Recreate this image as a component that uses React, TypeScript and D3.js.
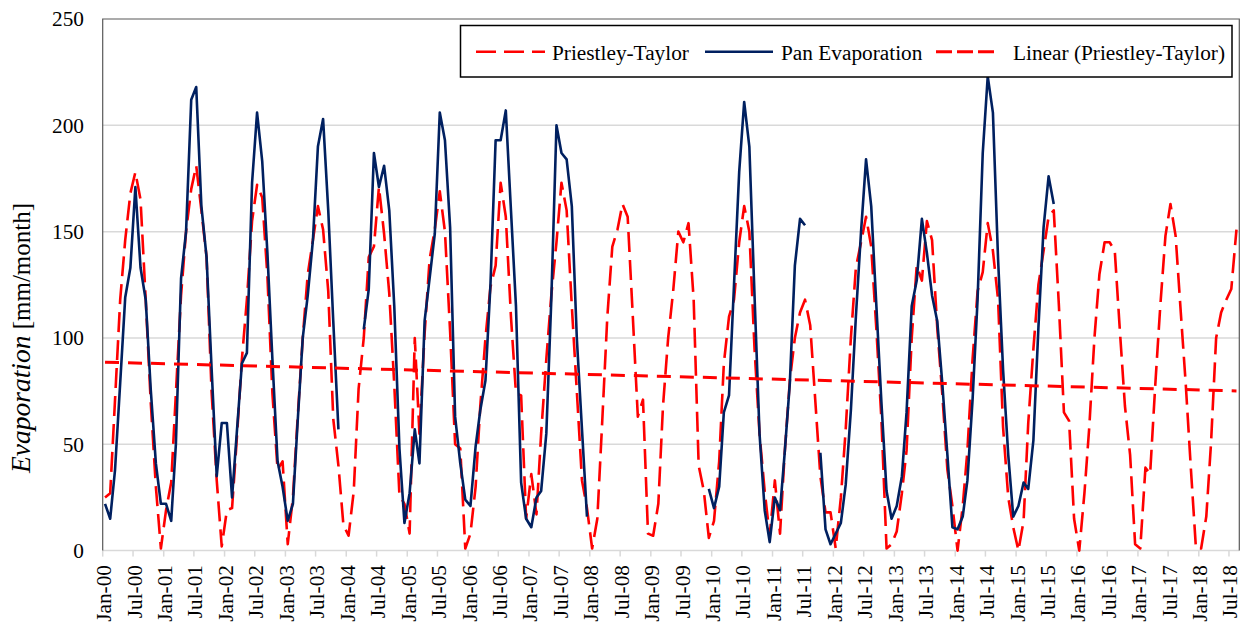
import React from 'react';
import * as d3 from 'd3';

// Monthly evaporation, Jan 2000 – Aug 2018 (mm/month), one row per year
const ptValues: number[] = [
  25, 27, 71, 118, 146, 168, 178, 165, 118, 70, 30, 1, // 2000
  19, 32, 74, 120, 150, 170, 181, 160, 138, 75, 33, 2, // 2001
  19, 20, 52, 90, 118, 155, 172, 166, 129, 74, 38, 42, // 2002
  3, 25, 62, 100, 130, 146, 162, 151, 122, 62, 40, 12, // 2003
  7, 28, 76, 100, 138, 143, 171, 149, 121, 78, 26, 22, // 2004
  8, 100, 55, 102, 137, 151, 169, 150, 103, 50, 48, 1, // 2005
  8, 30, 68, 100, 124, 134, 173, 157, 110, 74, 73, 15, // 2006
  36, 17, 55, 90, 120, 145, 173, 160, 115, 75, 33, 20, // 2007
  1, 15, 60, 110, 143, 151, 163, 157, 110, 63, 71, 8, // 2008
  7, 22, 68, 100, 122, 150, 145, 154, 118, 40, 28, 6, // 2009
  14, 42, 88, 110, 118, 145, 162, 150, 95, 55, 28, 7, // 2010
  33, 8, 46, 80, 100, 112, 118, 106, 70, 35, 18, 18, // 2011
  1, 25, 57, 100, 133, 145, 157, 143, 104, 62, 1, 3, // 2012
  9, 27, 47, 100, 134, 127, 155, 146, 105, 74, 38, 21, // 2013
  0, 21, 47, 90, 122, 131, 154, 141, 118, 58, 25, 11, // 2014
  0, 14, 60, 95, 125, 141, 157, 160, 115, 65, 61, 15, // 2015
  0, 27, 58, 100, 130, 145, 145, 141, 103, 68, 45, 3, // 2016
  1, 39, 36, 78, 115, 148, 163, 148, 112, 78, 38, 1, // 2017
  1, 16, 50, 100, 112, 118, 123, 151, // 2018
];

const _ = null;
const panValues: (number | null)[] = [
  22, 15, 38, 79, 119, 133, 171, 133, 118, 76, 41, 22, // 2000
  22, 14, 50, 128, 150, 212, 218, 162, 138, 86, 35, 60, // 2001
  60, 25, 55, 88, 93, 173, 206, 183, 140, 90, 42, 30, // 2002
  14, 22, 60, 100, 120, 146, 190, 203, 160, 108, 57, _, // 2003
  _, _, _, 104, 123, 187, 171, 181, 160, 115, 48, 13, // 2004
  27, 57, 41, 108, 128, 149, 206, 193, 152, 63, 41, 24, // 2005
  21, 49, 66, 80, 125, 193, 193, 207, 160, 115, 32, 15, // 2006
  11, 25, 28, 55, 118, 200, 187, 184, 162, 100, 57, 16, // 2007
  _, _, _, _, _, _, _, _, _, _, _, _, // 2008
  _, _, _, _, _, _, _, _, _, _, _, 29, // 2009
  20, 30, 65, 73, 125, 178, 211, 190, 120, 55, 19, 4, // 2010
  25, 19, 46, 79, 134, 156, 153, _, _, 46, 10, 3, // 2011
  8, 13, 31, 66, 110, 150, 184, 162, 115, 70, 28, 15, // 2012
  21, 35, 65, 115, 127, 156, 140, 120, 108, 79, 45, 11, // 2013
  10, 16, 33, 71, 118, 187, 223, 206, 137, 85, 45, 16, // 2014
  21, 32, 29, 52, 105, 152, 176, 163, // 2015 (Jan–Aug)
];

// Linear trend of the Priestley-Taylor series at its first and last month
const trendValues: number[] = [88.6, 75.1];

const yTicks: number[] = [0, 50, 100, 150, 200, 250];
const seriesNames: string[] = ['Priestley-Taylor', 'Pan Evaporation', 'Linear (Priestley-Taylor)'];

const W = 1246;
const H = 623;
const PLOT = { left: 102.7, right: 1239.3, top: 19, bottom: 550.6 };
const FONT = "'Liberation Serif', 'Times New Roman', Times, serif";
const RED = '#FF0000';
const NAVY = '#002060';

const monthDate = (i: number) => new Date(Date.UTC(2000, i, 15));

export default function App() {
  const x = d3
    .scaleUtc()
    .domain([new Date(Date.UTC(2000, 0, 1)), new Date(Date.UTC(2018, 8, 1))])
    .range([PLOT.left, PLOT.right]);
  const y = d3.scaleLinear().domain([0, 250]).range([PLOT.bottom, PLOT.top]);

  const xTicks = d3.utcMonth.every(6)!.range(new Date(Date.UTC(2000, 0, 1)), new Date(Date.UTC(2018, 7, 1)));
  const fmt = d3.utcFormat('%b-%y');

  const ptLine = d3
    .line<number>()
    .x((_d, i) => x(monthDate(i)))
    .y((d) => y(d));
  const panLine = d3
    .line<number | null>()
    .defined((d) => d != null)
    .x((_d, i) => x(monthDate(i)))
    .y((d) => y(d as number));

  const trendStart = monthDate(0);
  const trendEnd = monthDate(ptValues.length - 1);

  return (
    <svg
      width={W}
      height={H}
      style={{ position: 'absolute', left: 0, top: 0, background: '#fff' }}
      fontFamily={FONT}
    >
      {/* horizontal gridlines */}
      {yTicks.filter((t) => t > 0 && t < 250).map((t) => (
        <line key={t} x1={PLOT.left} x2={PLOT.right} y1={y(t)} y2={y(t)} stroke="#d9d9d9" strokeWidth={1.5} />
      ))}

      {/* x axis line and tick marks */}
      <line x1={PLOT.left} x2={PLOT.right} y1={PLOT.bottom} y2={PLOT.bottom} stroke="#d9d9d9" strokeWidth={1.5} />
      {xTicks.map((t, i) => (
        <line key={i} x1={x(t)} x2={x(t)} y1={PLOT.bottom} y2={PLOT.bottom + 6} stroke="#d9d9d9" strokeWidth={1.5} />
      ))}

      {/* plot frame: left, top, right */}
      <path
        d={`M${PLOT.left},${PLOT.bottom}V${PLOT.top}H${PLOT.right}V${PLOT.bottom}`}
        fill="none"
        stroke="#595959"
        strokeWidth={1.2}
      />

      {/* y tick labels */}
      {yTicks.map((t) => (
        <text key={t} x={84} y={y(t)} dy="0.35em" textAnchor="end" fontSize={21.3} fill="#000">
          {t}
        </text>
      ))}

      {/* x tick labels */}
      {xTicks.map((t, i) => (
        <text
          key={i}
          transform={`translate(${x(t) + 8.5},565) rotate(-90)`}
          textAnchor="end"
          fontSize={21.3}
          fill="#000"
        >
          {fmt(t)}
        </text>
      ))}

      {/* y axis title */}
      <text transform="translate(30,338) rotate(-90)" textAnchor="middle" fill="#000">
        <tspan fontStyle="italic" fontSize={27.5}>Evaporation</tspan>
        <tspan fontSize={25}> [mm/month]</tspan>
      </text>

      {/* series */}
      <path d={ptLine(ptValues) || ''} fill="none" stroke={RED} strokeWidth={2.6} strokeDasharray="20 8" strokeLinejoin="round" />
      <path d={panLine(panValues) || ''} fill="none" stroke={NAVY} strokeWidth={2.6} strokeLinejoin="round" />
      <line
        x1={x(trendStart)}
        x2={x(trendEnd)}
        y1={y(trendValues[0])}
        y2={y(trendValues[1])}
        stroke={RED}
        strokeWidth={3}
        strokeDasharray="14 9"
      />

      {/* legend */}
      <rect x={460.5} y={25.5} width={771.5} height={51.5} fill="#fff" stroke="#000" strokeWidth={1.5} />
      <line x1={476} x2={545} y1={51.7} y2={51.7} stroke={RED} strokeWidth={2.6} strokeDasharray="20 8" />
      <text x={552} y={59.5} fontSize={21.3} fill="#000">{seriesNames[0]}</text>
      <line x1={705} x2={773} y1={51.7} y2={51.7} stroke={NAVY} strokeWidth={2.6} />
      <text x={781} y={59.5} fontSize={21.3} fill="#000">{seriesNames[1]}</text>
      <line x1={936} x2={996} y1={51.7} y2={51.7} stroke={RED} strokeWidth={3} strokeDasharray="16 5" />
      <text x={1013} y={59.5} fontSize={21.3} fill="#000">{seriesNames[2]}</text>
    </svg>
  );
}
